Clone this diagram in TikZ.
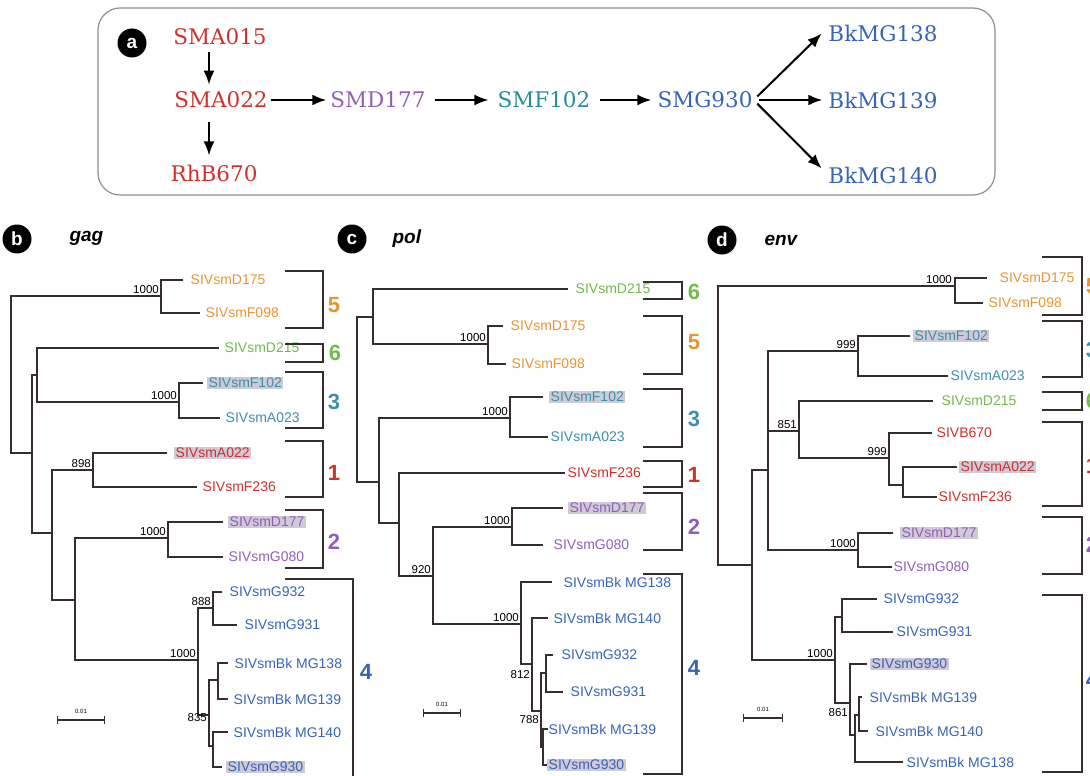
\documentclass[tikz,border=0pt]{standalone}
\usepackage{fontspec}
\usepackage{tikz}
\usetikzlibrary{arrows.meta}
\newfontfamily\strainfont{DejaVu Serif}
\newfontfamily\treefont{Liberation Sans}
\definecolor{sred}{RGB}{205, 50, 45}
\definecolor{spurple}{RGB}{145, 95, 185}
\definecolor{steal}{RGB}{40, 140, 150}
\definecolor{sblue}{RGB}{55, 100, 185}
\definecolor{torange}{RGB}{232, 150, 50}
\definecolor{tgreen}{RGB}{115, 185, 75}
\definecolor{tteal}{RGB}{60, 145, 170}
\definecolor{hlgray}{RGB}{208, 202, 214}
\definecolor{boxgray}{RGB}{150, 140, 150}
\definecolor{ink}{RGB}{55, 45, 45}

\begin{document}
\begin{tikzpicture}[x=1pt, y=-1pt,
  branch/.style={ink, line width=1.3pt},
  bracket/.style={ink, line width=1.5pt},
  taxon/.style={anchor=west, inner sep=1.5pt, xshift=4pt, font=\treefont\fontsize{14}{14}\selectfont},
  marked/.style={fill=hlgray},
  boot/.style={anchor=south east, inner sep=1pt, font=\treefont\fontsize{11.5}{11.5}\selectfont},
  cladeno/.style={font=\treefont\bfseries\fontsize{22}{22}\selectfont},
  strain/.style={inner sep=1pt, font=\strainfont\fontsize{21.5}{21.5}\selectfont},
  flow/.style={-{Latex[length=14pt, width=11pt]}, line width=2pt, black},
  tag/.style={circle, fill=black, text=white, minimum size=29pt, inner sep=0pt, font=\treefont\bfseries\fontsize{19}{19}\selectfont},
  gene/.style={anchor=west, font=\treefont\bfseries\itshape\fontsize{19}{19}\selectfont},
  scalebar/.style={ink, line width=1.2pt, {Bar[width=8pt]}-{Bar[width=8pt]}},
  scaletext/.style={inner sep=1pt, font=\treefont\fontsize{6}{6}\selectfont}]
  \useasboundingbox (0, 0) rectangle (1090, 776);
  \fill[white] (0, 0) rectangle (1090, 776);

  % ---- panel a: transmission chain
  \draw[boxgray, line width=1.2pt, rounded corners=22] (98, 8) rectangle (995, 195);
  \node[tag] (taga) at (132, 43) {a};

  \node[strain, sred] (sma015) at (220, 37) {SMA015};
  \node[strain, sred] (sma022) at (221, 100) {SMA022};
  \node[strain, sred] (rhb670) at (214, 173) {RhB670};
  \node[strain, spurple] (smd177) at (378, 100) {SMD177};
  \node[strain, steal] (smf102) at (544, 100) {SMF102};
  \node[strain, sblue] (smg930) at (705, 100) {SMG930};
  \node[strain, sblue] (bk138) at (883, 33) {BkMG138};
  \node[strain, sblue] (bk139) at (883, 100) {BkMG139};
  \node[strain, sblue] (bk140) at (883, 175) {BkMG140};

  \draw[flow, shorten <=6pt, shorten >=6pt] ([xshift=-11pt]sma015.south) -- ([xshift=-12pt]sma022.north);
  \draw[flow, shorten <=13pt, shorten >=8pt] ([xshift=-12pt]sma022.south) -- ([xshift=-5pt]rhb670.north);
  \draw[flow, shorten <=2pt, shorten >=3pt] (sma022.east) -- (smd177.west);
  \draw[flow, shorten <=8pt, shorten >=8pt] (smd177.east) -- (smf102.west);
  \draw[flow, shorten <=8pt, shorten >=5pt] (smf102.east) -- (smg930.west);
  \draw[flow, shorten <=5pt, shorten >=8pt] (smg930.east) -- ([yshift=5pt]bk138.west);
  \draw[flow, shorten <=5pt, shorten >=5pt] (smg930.east) -- (bk139.west);
  \draw[flow, shorten <=5pt, shorten >=8pt] (smg930.east) -- ([yshift=1pt]bk140.west);

  % ---- panel b: gag
  \node[tag] (tagb) at (17, 239) {b};
  \node[gene] (geneb) at (66, 238) {gag};

  \draw[branch] (161, 296) -| (11, 453) -- (32, 453);
  \draw[branch] (183, 280) -| (161, 313) -- (200, 313);
  \draw[branch] (37, 375) -| (32, 533) -- (52, 533);
  \draw[branch] (219, 348) -| (37, 402) -- (179, 402);
  \draw[branch] (203, 383) -| (179, 418) -- (220, 418);
  \draw[branch] (93, 470) -| (52, 600) -- (75, 600);
  \draw[branch] (167, 453) -| (93, 487) -- (197, 487);
  \draw[branch] (168, 538) -| (75, 660) -- (198, 660);
  \draw[branch] (223, 522) -| (168, 557) -- (223, 557);
  \draw[branch] (213, 608) -| (198, 715) -- (209, 715);
  \draw[branch] (222, 592) -| (213, 625) -- (237, 625);
  \draw[branch] (218, 680) -| (209, 746) -- (213, 746);
  \draw[branch] (228, 663) -| (218, 699) -- (228, 699);
  \draw[branch] (228, 732) -| (213, 767) -- (222, 767);

  \node[taxon, torange] (bD175) at (185, 280) {SIVsmD175};
  \node[taxon, torange] (bF098) at (200, 313) {SIVsmF098};
  \node[taxon, tgreen] (bD215) at (219, 348) {SIVsmD215};
  \node[taxon, tteal, marked] (bF102) at (203, 383) {SIVsmF102};
  \node[taxon, tteal] (bA023) at (220, 418) {SIVsmA023};
  \node[taxon, sred, marked] (bA022) at (170, 453) {SIVsmA022};
  \node[taxon, sred] (bF236) at (197, 487) {SIVsmF236};
  \node[taxon, spurple, marked] (bD177) at (224, 522) {SIVsmD177};
  \node[taxon, spurple] (bG080) at (223, 557) {SIVsmG080};
  \node[taxon, sblue] (bG932) at (224, 592) {SIVsmG932};
  \node[taxon, sblue] (bG931) at (239, 625) {SIVsmG931};
  \node[taxon, sblue] (bB138) at (229, 663) {SIVsmBk MG138};
  \node[taxon, sblue] (bB139) at (228, 699) {SIVsmBk MG139};
  \node[taxon, sblue] (bB140) at (228, 732) {SIVsmBk MG140};
  \node[taxon, sblue, marked] (bG930) at (222, 767) {SIVsmG930};

  \node[boot] (bb1) at (160, 295) {1000};
  \node[boot] (bb2) at (178, 401) {1000};
  \node[boot] (bb3) at (92, 469) {898};
  \node[boot] (bb4) at (167, 537) {1000};
  \node[boot] (bb5) at (212, 607) {888};
  \node[boot] (bb6) at (197, 659) {1000};
  \node[boot, anchor=east] (bb7) at (208, 718) {835};

  \draw[bracket] (285, 271) -- (323, 271) -- (323, 328) -- (285, 328);
  \draw[bracket] (285, 344) -- (323, 344) -- (323, 362) -- (285, 362);
  \draw[bracket] (285, 372) -- (323, 372) -- (323, 428) -- (285, 428);
  \draw[bracket] (285, 441) -- (323, 441) -- (323, 497) -- (285, 497);
  \draw[bracket] (285, 510) -- (323, 510) -- (323, 568) -- (285, 568);
  \draw[bracket] (285, 579) -- (353, 579) -- (353, 780);
  \node[cladeno, torange] (bc5) at (334, 305) {5};
  \node[cladeno, tgreen] (bc6) at (335, 353) {6};
  \node[cladeno, tteal] (bc3) at (334, 402) {3};
  \node[cladeno, sred] (bc1) at (334, 473) {1};
  \node[cladeno, spurple] (bc2) at (334, 542) {2};
  \node[cladeno, sblue] (bc4) at (366, 672) {4};

  \draw[scalebar] (57, 720) -- (105, 720);
  \node[scaletext, above] (bscale) at (81, 715) {0.01};

  % ---- panel c: pol
  \node[tag] (tagc) at (352, 239) {c};
  \node[gene] (genec) at (389, 239) {pol};

  \draw[branch] (373, 317) -| (357, 482) -- (379, 482);
  \draw[branch] (568, 289) -| (373, 344) -- (488, 344);
  \draw[branch] (503, 326) -| (488, 364) -- (506, 364);
  \draw[branch] (510, 418) -| (379, 523) -- (399, 523);
  \draw[branch] (543, 397) -| (510, 437) -- (548, 437);
  \draw[branch] (565, 473) -| (399, 576) -- (433, 576);
  \draw[branch] (512, 527) -| (433, 624) -- (521, 624);
  \draw[branch] (563, 508) -| (512, 545) -- (543, 545);
  \draw[branch] (552, 582) -| (521, 664) -- (532, 664);
  \draw[branch] (548, 618) -| (532, 711) -- (541, 711);
  \draw[branch] (546, 673) -| (541, 747) -- (543, 747);
  \draw[branch] (553, 655) -| (546, 692) -- (563, 692);
  \draw[branch] (548, 729) -| (543, 765) -- (548, 765);

  \node[taxon, tgreen] (cD215) at (570, 289) {SIVsmD215};
  \node[taxon, torange] (cD175) at (505, 326) {SIVsmD175};
  \node[taxon, torange] (cF098) at (506, 364) {SIVsmF098};
  \node[taxon, tteal, marked] (cF102) at (545, 397) {SIVsmF102};
  \node[taxon, tteal] (cA023) at (545, 437) {SIVsmA023};
  \node[taxon, sred] (cF236) at (562, 473) {SIVsmF236};
  \node[taxon, spurple, marked] (cD177) at (564, 508) {SIVsmD177};
  \node[taxon, spurple] (cG080) at (548, 545) {SIVsmG080};
  \node[taxon, sblue] (cB138) at (558, 582) {SIVsmBk MG138};
  \node[taxon, sblue] (cB140) at (548, 618) {SIVsmBk MG140};
  \node[taxon, sblue] (cG932) at (556, 655) {SIVsmG932};
  \node[taxon, sblue] (cG931) at (565, 692) {SIVsmG931};
  \node[taxon, sblue] (cB139) at (543, 729) {SIVsmBk MG139};
  \node[taxon, sblue, marked] (cG930) at (543, 765) {SIVsmG930};

  \node[boot] (cb1) at (487, 343) {1000};
  \node[boot] (cb2) at (509, 417) {1000};
  \node[boot] (cb3) at (432, 575) {920};
  \node[boot] (cb4) at (511, 526) {1000};
  \node[boot] (cb5) at (520, 623) {1000};
  \node[boot, anchor=east] (cb6) at (531, 675) {812};
  \node[boot, anchor=east] (cb7) at (540, 720) {788};

  \draw[bracket] (643, 282) -- (682, 282) -- (682, 299) -- (643, 299);
  \draw[bracket] (643, 316) -- (682, 316) -- (682, 374) -- (643, 374);
  \draw[bracket] (643, 389) -- (682, 389) -- (682, 447) -- (643, 447);
  \draw[bracket] (643, 461) -- (682, 461) -- (682, 487) -- (643, 487);
  \draw[bracket] (643, 493) -- (682, 493) -- (682, 550) -- (643, 550);
  \draw[bracket] (643, 574) -- (682, 574) -- (682, 774) -- (643, 774);
  \node[cladeno, tgreen] (cc6) at (694, 292) {6};
  \node[cladeno, torange] (cc5) at (694, 342) {5};
  \node[cladeno, tteal] (cc3) at (694, 419) {3};
  \node[cladeno, sred] (cc1) at (694, 475) {1};
  \node[cladeno, spurple] (cc2) at (694, 527) {2};
  \node[cladeno, sblue] (cc4) at (694, 668) {4};

  \draw[scalebar] (423, 713) -- (461, 713);
  \node[scaletext, above] (cscale) at (442, 708) {0.01};

  % ---- panel d: env
  \node[tag] (tagd) at (722, 240) {d};
  \node[gene] (gened) at (761, 240) {env};

  \draw[branch] (955, 286) -| (718, 565) -- (752, 565);
  \draw[branch] (987, 278) -| (955, 303) -- (983, 303);
  \draw[branch] (768, 470) -| (752, 660) -- (835, 660);
  \draw[branch] (858, 351) -| (768, 550) -- (858, 550);
  \draw[branch] (768, 431) -- (799, 431);
  \draw[branch] (910, 336) -| (858, 376) -- (948, 376);
  \draw[branch] (933, 401) -| (799, 458) -- (889, 458);
  \draw[branch] (932, 433) -| (889, 485) -- (903, 485);
  \draw[branch] (957, 467) -| (903, 497) -- (937, 497);
  \draw[branch] (893, 533) -| (858, 567) -- (892, 567);
  \draw[branch] (842, 617) -| (835, 703) -- (850, 703);
  \draw[branch] (877, 599) -| (842, 632) -- (893, 632);
  \draw[branch] (867, 664) -| (850, 735) -- (855, 735);
  \draw[branch] (859, 715) -| (855, 762) -- (903, 762);
  \draw[branch] (862, 697) -| (859, 731) -- (868, 731);

  \node[taxon, torange] (dD175) at (994, 278) {SIVsmD175};
  \node[taxon, torange] (dF098) at (983, 303) {SIVsmF098};
  \node[taxon, tteal, marked] (dF102) at (909, 336) {SIVsmF102};
  \node[taxon, tteal] (dA023) at (945, 376) {SIVsmA023};
  \node[taxon, tgreen] (dD215) at (936, 401) {SIVsmD215};
  \node[taxon, sred] (dB670) at (931, 433) {SIVB670};
  \node[taxon, sred, marked] (dA022) at (955, 467) {SIVsmA022};
  \node[taxon, sred] (dF236) at (933, 497) {SIVsmF236};
  \node[taxon, spurple, marked] (dD177) at (896, 533) {SIVsmD177};
  \node[taxon, spurple] (dG080) at (888, 567) {SIVsmG080};
  \node[taxon, sblue] (dG932) at (878, 599) {SIVsmG932};
  \node[taxon, sblue] (dG931) at (891, 632) {SIVsmG931};
  \node[taxon, sblue, marked] (dG930) at (866, 664) {SIVsmG930};
  \node[taxon, sblue] (dB139) at (864, 697) {SIVsmBk MG139};
  \node[taxon, sblue] (dB140) at (870, 731) {SIVsmBk MG140};
  \node[taxon, sblue] (dB138) at (901, 762) {SIVsmBk MG138};

  \node[boot] (db1) at (953, 285) {1000};
  \node[boot] (db2) at (857, 350) {999};
  \node[boot] (db3) at (798, 430) {851};
  \node[boot] (db4) at (888, 457) {999};
  \node[boot] (db5) at (857, 549) {1000};
  \node[boot] (db6) at (834, 659) {1000};
  \node[boot, anchor=east] (db7) at (849, 713) {861};

  \draw[bracket] (1042, 257) -- (1082, 257) -- (1082, 315) -- (1042, 315);
  \draw[bracket] (1042, 321) -- (1082, 321) -- (1082, 377) -- (1042, 377);
  \draw[bracket] (1042, 392) -- (1082, 392) -- (1082, 410) -- (1042, 410);
  \draw[bracket] (1042, 422) -- (1082, 422) -- (1082, 506) -- (1042, 506);
  \draw[bracket] (1042, 517) -- (1082, 517) -- (1082, 574) -- (1042, 574);
  \draw[bracket] (1042, 595) -- (1082, 595) -- (1082, 772) -- (1042, 772);
  \node[cladeno, torange] (dc5) at (1092, 286) {5};
  \node[cladeno, tteal] (dc3) at (1092, 350) {3};
  \node[cladeno, tgreen] (dc6) at (1092, 401) {6};
  \node[cladeno, sred] (dc1) at (1092, 466) {1};
  \node[cladeno, spurple] (dc2) at (1092, 545) {2};
  \node[cladeno, sblue] (dc4) at (1092, 680) {4};

  \draw[scalebar] (743, 718) -- (783, 718);
  \node[scaletext, above] (dscale) at (763, 713) {0.01};

\end{tikzpicture}
\end{document}
